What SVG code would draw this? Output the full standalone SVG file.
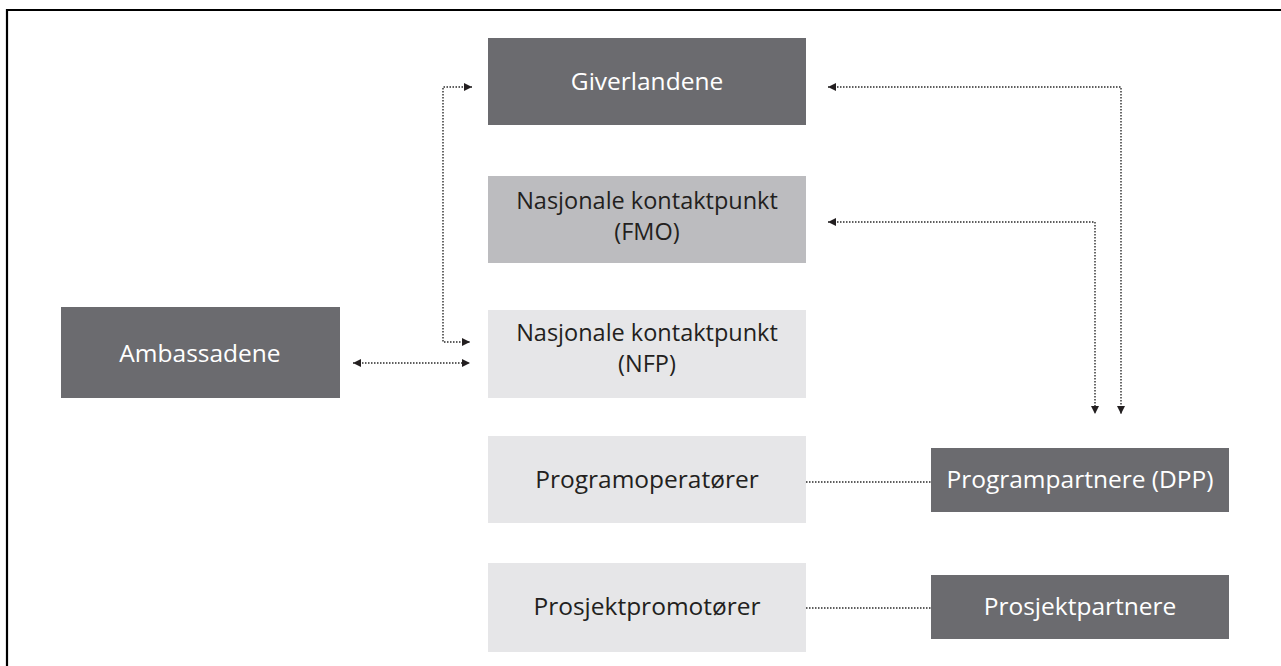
<svg xmlns="http://www.w3.org/2000/svg" width="1281" height="666" viewBox="0 0 1281 666">
<defs>
<style>
.dark{fill:#6b6b6f}
.mid{fill:#bcbcbf}
.light{fill:#e6e6e8}
.tw{font-family:"Open Sans","Noto Sans",sans-serif;font-size:24.5px;fill:#ffffff;text-anchor:middle}
.tb{font-family:"Open Sans","Noto Sans",sans-serif;font-size:24.5px;fill:#231f20;text-anchor:middle}
.tb2{font-family:"Open Sans","Noto Sans",sans-serif;font-size:23.5px;fill:#231f20;text-anchor:middle}
.con{fill:none;stroke:#2a2a2a;stroke-width:1.4;stroke-dasharray:1.5 1.5}
</style>
<marker id="ah" viewBox="0 0 8 8" refX="8" refY="4" markerWidth="8" markerHeight="8" markerUnits="userSpaceOnUse" orient="auto-start-reverse">
<path d="M0,0 L8,4 L0,8 Z" fill="#231f20"/>
</marker>
</defs>
<rect width="1281" height="666" fill="#ffffff"/>
<path d="M7,666 L7,10 L1281,10" fill="none" stroke="#000" stroke-width="2.2"/>
<g id="connectors">
<path class="con" d="M472,87 L443,87 L443,342 L470,342" marker-start="url(#ah)" marker-end="url(#ah)"/>
<path class="con" d="M353,363 L470,363" marker-start="url(#ah)" marker-end="url(#ah)"/>
<path class="con" d="M828,87 L1121,87 L1121,414" marker-start="url(#ah)" marker-end="url(#ah)"/>
<path class="con" d="M828,222 L1095,222 L1095,414" marker-start="url(#ah)" marker-end="url(#ah)"/>
<path class="con" d="M806,482 L931,482"/>
<path class="con" d="M806,608 L931,608"/>
</g>
<g id="giverlandene"><rect class="dark" x="488" y="38" width="318" height="87"/><text class="tw" x="647" y="90">Giverlandene</text></g>
<g id="fmo"><rect class="mid" x="488" y="176" width="318" height="87"/><text class="tb2" x="647" y="209">Nasjonale kontaktpunkt</text><text class="tb2" x="647" y="240">(FMO)</text></g>
<g id="nfp"><rect class="light" x="488" y="310" width="318" height="88"/><text class="tb2" x="647" y="341">Nasjonale kontaktpunkt</text><text class="tb2" x="647" y="372">(NFP)</text></g>
<g id="programoperatorer"><rect class="light" x="488" y="436" width="318" height="87"/><text class="tb" x="647" y="488">Programoperatører</text></g>
<g id="prosjektpromotorer"><rect class="light" x="488" y="563" width="318" height="89"/><text class="tb" x="647" y="615">Prosjektpromotører</text></g>
<g id="ambassadene"><rect class="dark" x="61" y="307" width="279" height="91"/><text class="tw" x="200" y="362">Ambassadene</text></g>
<g id="programpartnere"><rect class="dark" x="931" y="448" width="298" height="64"/><text class="tw" x="1080" y="488">Programpartnere (DPP)</text></g>
<g id="prosjektpartnere"><rect class="dark" x="931" y="575" width="298" height="64"/><text class="tw" x="1080" y="615">Prosjektpartnere</text></g>
</svg>
